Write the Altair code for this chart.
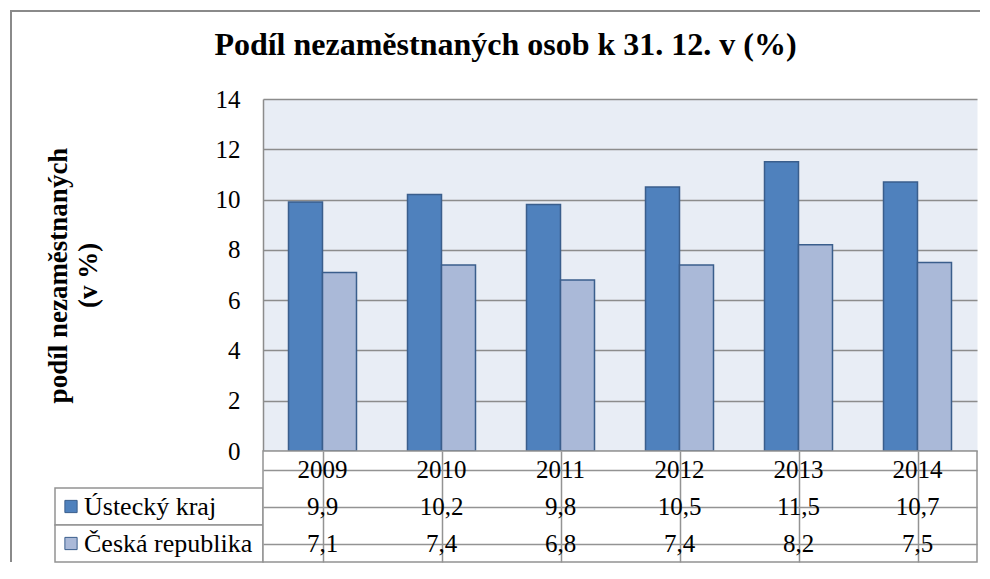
import altair as alt
import pandas as pd

years = ["2009", "2010", "2011", "2012", "2013", "2014"]
series = ["Ústecký kraj", "Česká republika"]
ustecky = [9.9, 10.2, 9.8, 10.5, 11.5, 10.7]
cr = [7.1, 7.4, 6.8, 7.4, 8.2, 7.5]
colors = ["#4F81BD", "#AAB9D8"]
y_ticks = [0, 2, 4, 6, 8, 10, 12, 14]

FONT = "Times New Roman, Liberation Serif, serif"
GRID = "#8C8C8C"
TBL = "#939393"

# ---- data frames ----
rows = []
for s, vals in zip(series, [ustecky, cr]):
    for y, v in zip(years, vals):
        rows.append({"year": y, "series": s, "value": v})
bars_df = pd.DataFrame(rows)

row_order = ["hdr", series[0], series[1]]
tbl = []
for y in years:
    tbl.append({"year": y, "row": "hdr", "txt": y})
for s, vals in zip(series, [ustecky, cr]):
    for y, v in zip(years, vals):
        tbl.append({"year": y, "row": s, "txt": f"{v:.1f}".replace(".", ",")})
tbl_df = pd.DataFrame(tbl)

lab_df = pd.DataFrame({"row": series, "series": series})

color_scale = alt.Scale(domain=series, range=colors)
row_scale = alt.Scale(domain=row_order, paddingInner=0, paddingOuter=0)

PLOT_W, PLOT_H = 714, 352
LAB_W, TBL_H = 208, 111

# ---- bar chart ----
bars = alt.Chart(bars_df).mark_bar(stroke="#3A5E8C", strokeWidth=1.5).encode(
    x=alt.X("year:N", sort=years,
            scale=alt.Scale(paddingInner=0.4286, paddingOuter=0.2143),
            axis=None),
    xOffset=alt.XOffset("series:N", sort=series,
                        scale=alt.Scale(paddingInner=0, paddingOuter=0)),
    y=alt.Y("value:Q",
            scale=alt.Scale(domain=[0, 14], nice=False),
            axis=alt.Axis(values=y_ticks, title=["podíl nezaměstnaných", "(v %)"],
                          grid=True, gridColor=GRID, gridWidth=1.5,
                          domain=True, domainColor=GRID, domainWidth=1.5,
                          ticks=False, labelPadding=23, labelFontSize=25,
                          labelColor="black", labelFont=FONT,
                          titleFont=FONT, titleFontSize=27, titleFontWeight="bold",
                          titleColor="black", titleLineHeight=30, titlePadding=113)),
    color=alt.Color("series:N", scale=color_scale, legend=None),
).properties(
    width=PLOT_W, height=PLOT_H,
    view=alt.ViewBackground(fill="#E8EDF5", stroke="transparent"),
    title=alt.TitleParams("Podíl nezaměstnaných osob k 31. 12. v (%)",
                          font=FONT, fontSize=32, fontWeight="bold", color="black",
                          anchor="middle", frame="bounds", offset=25, dx=-5),
)

# ---- corner (outer frame of the whole figure) ----
one = pd.DataFrame({"k": [0]})
frame_left = alt.Chart(one).mark_rule(color="#8A8A8A", strokeWidth=2).encode(
    x=alt.value(-44), y=alt.value(-88), y2=alt.value(PLOT_H + TBL_H))
frame_top = alt.Chart(one).mark_rule(color="#8A8A8A", strokeWidth=2).encode(
    x=alt.value(-45), x2=alt.value(925), y=alt.value(-88))
corner = alt.layer(frame_left, frame_top).properties(
    width=LAB_W, height=PLOT_H, view=alt.ViewBackground(stroke="transparent"))

# ---- row label cells of the data table ----
cells = alt.Chart(lab_df).mark_rect(fill="white", stroke=TBL, strokeWidth=1.5).encode(
    y=alt.Y("row:N", scale=row_scale, axis=None),
    x=alt.value(0), x2=alt.value("width"))
swatch = alt.Chart(lab_df).mark_point(shape="square", size=150, filled=True,
                                      stroke="#3A5E8C", strokeWidth=1, opacity=1).encode(
    y=alt.Y("row:N", scale=row_scale, axis=None),
    x=alt.value(16),
    fill=alt.Fill("series:N", scale=color_scale, legend=None))
labtxt = alt.Chart(lab_df).mark_text(align="left", baseline="middle", font=FONT,
                                     fontSize=26, color="black").encode(
    y=alt.Y("row:N", scale=row_scale, axis=None),
    x=alt.value(29),
    text="series:N")
labels = alt.layer(cells, swatch, labtxt).properties(
    width=LAB_W, height=TBL_H, view=alt.ViewBackground(stroke="transparent"))

# ---- data table ----
table = alt.Chart(tbl_df).mark_text(font=FONT, fontSize=25, color="black",
                                    baseline="middle").encode(
    x=alt.X("year:N", sort=years, scale=alt.Scale(paddingInner=0, paddingOuter=0),
            axis=alt.Axis(bandPosition=0, grid=True, gridColor=TBL, gridWidth=1.5,
                          labels=False, ticks=False, domain=False, title=None)),
    y=alt.Y("row:N", scale=row_scale,
            axis=alt.Axis(bandPosition=0, grid=True, gridColor=TBL, gridWidth=1.5,
                          labels=False, ticks=False, domain=False, title=None)),
    text="txt:N",
).properties(width=PLOT_W, height=TBL_H,
             view=alt.ViewBackground(fill="white", stroke=TBL, strokeWidth=1.5))

chart = alt.concat(corner, bars, labels, table, columns=2, spacing=0,
                   bounds="flush").properties(
    padding={"left": 0, "top": 1, "right": 0, "bottom": 0},
    background="white",
).configure(font=FONT)

chart.save("out.html", embed_options={"renderer": "svg", "actions": False})
